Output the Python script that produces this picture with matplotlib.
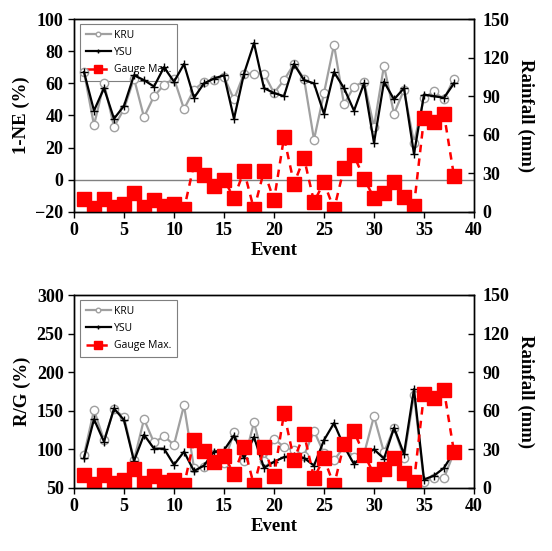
import matplotlib
matplotlib.use("Agg")
import matplotlib.pyplot as plt

events = list(range(1, 39))

# top panel: 1-NE (%)
kru_ne = [67, 34, 60, 33, 44, 63, 39, 52, 59, 63, 44, 56, 61, 62, 64, 50, 66, 66, 66, 54,
          62, 72, 63, 25, 54, 84, 47, 58, 61, 33, 71, 41, 56, 23, 51, 55, 50, 63]
ysu_ne = [67, 43, 57, 38, 46, 65, 62, 58, 70, 61, 72, 51, 60, 63, 65, 38, 66, 85, 57, 54,
          52, 72, 62, 60, 41, 67, 57, 43, 60, 23, 61, 50, 57, 16, 53, 52, 51, 60]

# bottom panel: R/G (%)
kru_rg = [93, 151, 112, 152, 142, 86, 139, 109, 117, 106, 157, 76, 77, 94, 83, 122, 85, 135, 85, 114,
          103, 99, 92, 124, 95, 86, 103, 90, 94, 143, 96, 128, 89, 171, 58, 63, 63, 96]
ysu_rg = [89, 139, 110, 153, 138, 85, 119, 101, 101, 80, 97, 72, 79, 97, 99, 118, 89, 116, 76, 84,
          90, 92, 89, 79, 112, 134, 104, 81, 93, 100, 88, 128, 94, 178, 61, 66, 76, 97]

# gauge max rainfall (mm), same in both panels
gauge_max = [10, 3, 10, 4, 6, 15, 4, 9, 5, 6, 2, 37, 29, 20, 25, 11, 32, 2, 32, 9,
             58, 22, 42, 8, 23, 2, 34, 44, 26, 11, 15, 23, 12, 5, 73, 70, 76, 28]

serif = "Liberation Serif"
tick_font = dict(family=serif, weight="bold", size=13)
label_font = dict(family=serif, weight="bold", size=13.5)


def draw_panel(fig, rect, kru, ysu, ylim, yticks, ylabel, zero_line, legend_labels):
    ax = fig.add_axes(rect)
    ax2 = ax.twinx()

    ax.plot(events, kru, color="#a0a0a0", lw=1.6, marker="o", ms=6,
            mfc="white", mec="#a0a0a0", mew=1.0, label=legend_labels[0], zorder=3)
    ax.plot(events, ysu, color="black", lw=1.6, marker="+", ms=6, mew=1.0,
            label=legend_labels[1], zorder=4)
    ax2.plot(events, gauge_max, color="red", lw=1.8, ls=(0, (3, 2.5)), marker="s", ms=10,
             mfc="red", mec="red", label=legend_labels[2])

    if zero_line:
        ax.axhline(0, color="#808080", lw=1.0, zorder=1)

    ax.set_xlim(0, 40)
    ax.set_ylim(*ylim)
    ax.set_xticks(range(0, 41, 5))
    ax.set_yticks(yticks)
    ax2.set_ylim(0, 150)
    ax2.set_yticks(range(0, 151, 30))

    for a in (ax, ax2):
        for lab in a.get_xticklabels() + a.get_yticklabels():
            lab.set(**tick_font)
        for s in a.spines.values():
            s.set_linewidth(1.0)
    ax.tick_params(axis="both", direction="out", length=4, width=1)
    ax2.tick_params(axis="y", direction="in", length=4, width=1, pad=6)

    ax.set_xlabel("Event", labelpad=2, **label_font)
    ax.set_ylabel(ylabel, labelpad=4, **label_font)
    ax2.set_ylabel("Rainfall (mm)", rotation=270, labelpad=18, **label_font)

    h1, l1 = ax.get_legend_handles_labels()
    h2, l2 = ax2.get_legend_handles_labels()
    leg = ax.legend(h1 + h2, l1 + l2, loc="upper left", bbox_to_anchor=(0.01, 0.985),
                    prop=dict(family="Open Sans", size=7.5), frameon=True, fancybox=False,
                    edgecolor="#7f7f7f", framealpha=1, handlelength=2.4,
                    markerscale=0.55, borderpad=0.55, labelspacing=0.6,
                    borderaxespad=0.2, handletextpad=0.3)
    leg.get_frame().set_linewidth(0.8)
    leg.set_zorder(2)
    return ax, ax2


fig = plt.figure(figsize=(5.52, 5.51), dpi=100)

draw_panel(fig, [74 / 552, 1 - 212 / 551, 400 / 552, 193 / 551], kru_ne, ysu_ne,
           (-20, 100), range(-20, 101, 20), "1-NE (%)", True,
           ["KRU", "YSU", "Gauge Max."])
draw_panel(fig, [74 / 552, 1 - 488 / 551, 400 / 552, 193 / 551], kru_rg, ysu_rg,
           (50, 300), range(50, 301, 50), "R/G (%)", False,
           ["KRU", "YSU", "Gauge Max."])

fig.savefig("out.png", dpi=100)
